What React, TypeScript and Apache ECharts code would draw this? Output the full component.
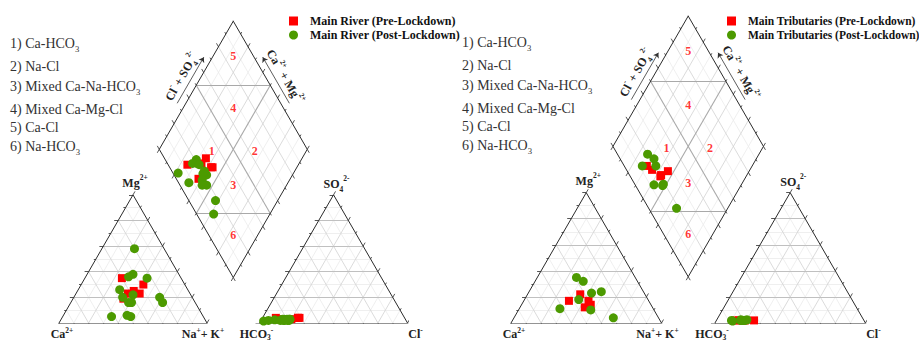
import React, { useEffect, useRef } from "react";
import * as echarts from "echarts";

// ---------------- data ----------------
const typeNames = ["Ca-HCO3", "Na-Cl", "Mixed Ca-Na-HCO3", "Mixed Ca-Mg-Cl", "Ca-Cl", "Na-HCO3"];
const zoneIds = ["1", "2", "3", "4", "5", "6"];

const riverNames = ["Main River (Pre-Lockdown)", "Main River (Post-Lockdown)"];
const tribNames = ["Main Tributaries (Pre-Lockdown)", "Main Tributaries (Post-Lockdown)"];

// Main River, pre-lockdown (% of meq/L)
const riverPreCa = [40, 28, 37, 34, 47, 42];
const riverPreMg = [35, 30, 25, 23, 19, 23];
const riverPreCl = [9, 24, 12, 25, 20, 24];
const riverPreSO4 = [4, 4, 3, 4, 3, 4];

// Main River, post-lockdown
const riverPostCa = [20, 31, 35, 23, 46, 47, 45, 43, 39, 22, 22, 62, 51, 49];
const riverPostMg = [58, 38, 36, 35, 26, 20, 16, 16, 22, 20, 16, 5, 6, 5];
const riverPostCl = [2, 17, 19, 19, 14, 18, 18, 15, 19, 15, 9, 5, 13, 16];
const riverPostSO4 = [1.5, 3, 2, 3, 3, 3, 2, 2, 3, 3, 2.5, 2, 2, 2];

// Main Tributaries, pre-lockdown
const tribPreCa = [53, 43, 40, 40, 45];
const tribPreMg = [17, 22, 17, 14, 12];
const tribPreCl = [13, 15, 19, 25, 18];
const tribPreSO4 = [2, 2, 2, 2, 2];

// Main Tributaries, post-lockdown
const tribPostCa = [39, 36, 35, 28, 46, 62, 42, 30];
const tribPostMg = [35, 32, 23, 24, 18, 11, 10, 4];
const tribPostCl = [18, 20, 11, 16, 19, 10, 17, 16];
const tribPostSO4 = [2, 2.5, 1.5, 2, 2, 2, 2, 2.5];

// ---------------- layout / style ----------------
const RED = "#ff0000";
const GREEN = "#4c9a00";
const SERIF = '"Liberation Serif", "Times New Roman", serif';

const SQ3 = Math.sqrt(3) / 2;
const S = 100; // triangle side (units)
const G = 35.5; // gap between triangles (units)
const HT = S * SQ3;
const X_MAX = 2 * S + G;
const Y_MAX = G * SQ3 + 2 * HT;

const PANELS = [
  { left: 59, scale: 1.48, base: 323, listX: 10, listDy: 0, legendLeft: 289, legendFont: 12 },
  { left: 511, scale: 1.505, base: 323, listX: 462, listDy: -1, legendLeft: 727, legendFont: 11.5 },
];
const LIST_Y = [43, 66, 86, 109, 127, 146];
// zone label anchors inside the diamond: [Ca+Mg %, Cl+SO4 %]
const ZONE_POS = [[64, 35], [35, 64], [36, 36], [66, 66], [86.5, 86.5], [16.5, 16.5]];

type P2 = number[];

function cationXY(ca: number, mg: number): P2 {
  const na = 100 - ca - mg;
  return [((na + mg / 2) * S) / 100, (mg / 100) * HT];
}
function anionXY(cl: number, so4: number): P2 {
  return [S + G + ((cl + so4 / 2) * S) / 100, (so4 / 100) * HT];
}
const DB = [S + G / 2, G * SQ3];
function diamondXY(a: number, c: number): P2 {
  return [DB[0] + ((c - a) * S) / 2, DB[1] + (a + c) * HT];
}
function samplePoints(ca: number[], mg: number[], cl: number[], so4: number[]): P2[] {
  const pts: P2[] = [];
  ca.forEach((_, i) => pts.push(cationXY(ca[i], mg[i])));
  ca.forEach((_, i) => pts.push(anionXY(cl[i], so4[i])));
  ca.forEach((_, i) => pts.push(diamondXY((ca[i] + mg[i]) / 100, (cl[i] + so4[i]) / 100)));
  return pts;
}
function lerp(a: P2, b: P2, t: number): P2 {
  return [a[0] + (b[0] - a[0]) * t, a[1] + (b[1] - a[1]) * t];
}

function buildSegments(scale: number) {
  const out: Record<string, P2[][]> = { minor: [], major: [], majorH: [], zone: [], frame: [], ticks: [] };
  const tick = (p0: P2, p1: P2, dir: P2) => {
    for (let k = 0; k <= 10; k++) {
      const p = lerp(p0, p1, k / 10);
      const len = (k % 2 === 0 ? 4 : 2.2) / scale;
      out.ticks.push([p, [p[0] + dir[0] * len, p[1] + dir[1] * len]]);
    }
  };
  for (const ox of [0, S + G]) {
    const A = [ox, 0], B = [ox + S, 0], C = [ox + S / 2, HT];
    for (let k = 1; k < 10; k++) {
      const t = k / 10;
      const maj = k % 2 === 0;
      out[maj ? "majorH" : "minor"].push([lerp(A, C, t), lerp(B, C, t)]);
      out[maj ? "major" : "minor"].push([lerp(A, B, t), lerp(B, C, 1 - t)]);
      out[maj ? "major" : "minor"].push([lerp(A, B, t), lerp(A, C, t)]);
    }
    out.frame.push([A, B], [B, C], [C, A]);
    tick(A, C, [-1, 0]);
    tick(A, B, [0.5, -SQ3]);
    tick(B, C, [0.5, SQ3]);
  }
  const D = diamondXY;
  for (let k = 1; k < 10; k++) {
    const t = k / 10;
    const cls = k === 5 ? "zone" : k % 2 === 0 ? "major" : "minor";
    out[cls].push([D(t, 0), D(t, 1)]);
    out[cls].push([D(0, t), D(1, t)]);
  }
  out.zone.push([D(0.5, 0), D(0, 0.5)], [D(1, 0.5), D(0.5, 1)]);
  out.frame.push([D(0, 0), D(1, 0)], [D(1, 0), D(1, 1)], [D(1, 1), D(0, 1)], [D(0, 1), D(0, 0)]);
  tick(D(1, 0), D(1, 1), [-0.5, SQ3]);
  tick(D(0, 1), D(1, 1), [0.5, SQ3]);
  tick(D(0, 0), D(1, 0), [-0.5, -SQ3]);
  tick(D(0, 0), D(0, 1), [0.5, -SQ3]);
  return out;
}

const SEG_STYLES = [
  { key: "minor", color: "#ebebeb", width: 0.8, z: 1 },
  { key: "major", color: "#d2d2d2", width: 0.8, z: 2 },
  { key: "majorH", color: "#c0c0c0", width: 1, z: 3 },
  { key: "zone", color: "#a9a9a9", width: 1.1, z: 4 },
  { key: "frame", color: "#2b2b2b", width: 1, z: 5 },
  { key: "ticks", color: "#2b2b2b", width: 0.8, z: 5 },
];

function richStyles(size: number, weight: string) {
  return {
    sup: { fontSize: size * 0.62, fontFamily: SERIF, fontWeight: weight, verticalAlign: "top", lineHeight: 6 },
    sub: { fontSize: size * 0.62, fontFamily: SERIF, fontWeight: weight, verticalAlign: "bottom", lineHeight: 6 },
  };
}
function txt(
  x: number,
  y: number,
  text: string,
  size: number,
  weight: string,
  fill: string,
  align = "center",
  rotation = 0,
  lh = Math.round(size * 1.5)
) {
  return {
    type: "text",
    x,
    y,
    rotation,
    silent: true,
    z: 50,
    style: {
      text,
      x: 0,
      y: 0,
      fill,
      fontSize: size,
      fontFamily: SERIF,
      fontWeight: weight,
      align,
      verticalAlign: "middle",
      textAlign: align,
      textVerticalAlign: "middle",
      lineHeight: lh,
      rich: richStyles(size, weight),
    },
  };
}

function buildOption() {
  const series: any[] = [];
  const graphic: any[] = [];
  const sets = [
    [
      [riverPreCa, riverPreMg, riverPreCl, riverPreSO4],
      [riverPostCa, riverPostMg, riverPostCl, riverPostSO4],
    ],
    [
      [tribPreCa, tribPreMg, tribPreCl, tribPreSO4],
      [tribPostCa, tribPostMg, tribPostCl, tribPostSO4],
    ],
  ];

  PANELS.forEach((p, i) => {
    const segs = buildSegments(p.scale);
    SEG_STYLES.forEach((st) => {
      series.push({
        type: "lines",
        coordinateSystem: "cartesian2d",
        xAxisIndex: i,
        yAxisIndex: i,
        polyline: false,
        silent: true,
        z: st.z,
        lineStyle: { color: st.color, width: st.width, opacity: 1, curveness: 0 },
        data: segs[st.key].map((c) => ({ coords: c })),
      });
    });

    // arrows beside the diamond's upper edges
    const L = diamondXY(1, 0), T = diamondXY(1, 1), R = diamondXY(0, 1);
    const off = 7.5 / p.scale;
    const nl = [-SQ3 * off, 0.5 * off], nr = [SQ3 * off, 0.5 * off];
    const a0 = lerp(L, T, 0.33), a1 = lerp(L, T, 0.69);
    const b0 = lerp(R, T, 0.33), b1 = lerp(R, T, 0.69);
    series.push({
      type: "lines",
      coordinateSystem: "cartesian2d",
      xAxisIndex: i,
      yAxisIndex: i,
      silent: true,
      z: 6,
      symbol: ["none", "arrow"],
      symbolSize: 5,
      lineStyle: { color: "#333", width: 0.8, opacity: 1, curveness: 0 },
      data: [
        { coords: [[a0[0] + nl[0], a0[1] + nl[1]], [a1[0] + nl[0], a1[1] + nl[1]]] },
        { coords: [[b0[0] + nr[0], b0[1] + nr[1]], [b1[0] + nr[0], b1[1] + nr[1]]] },
      ],
    });

    // zone numbers
    series.push({
      type: "scatter",
      xAxisIndex: i,
      yAxisIndex: i,
      silent: true,
      symbolSize: 0,
      z: 7,
      label: {
        show: true,
        position: "inside",
        formatter: "{b}",
        color: RED,
        fontFamily: SERIF,
        fontWeight: "bold",
        fontSize: 12,
      },
      data: ZONE_POS.map((ac, k) => ({ name: zoneIds[k], value: diamondXY(ac[0] / 100, ac[1] / 100) })),
    });

    const names = i === 0 ? riverNames : tribNames;
    sets[i].forEach((arrs, j) => {
      series.push({
        type: "scatter",
        name: names[j],
        xAxisIndex: i,
        yAxisIndex: i,
        symbol: j === 0 ? "rect" : "circle",
        symbolSize: j === 0 ? 8 : 9,
        symbolKeepAspect: true,
        z: 10 + j,
        emphasis: { disabled: true },
        itemStyle: { color: j === 0 ? RED : GREEN, opacity: 1 },
        data: samplePoints(arrs[0], arrs[1], arrs[2], arrs[3]),
      });
    });

    // texts
    const px = (u: P2): P2 => [p.left + u[0] * p.scale, p.base - u[1] * p.scale];
    typeNames.forEach((n, k) => {
      graphic.push(
        txt(p.listX, LIST_Y[k] + p.listDy, `${k + 1}) ${n.replace(/O3$/, "O{sub|3}")}`, 14, "normal", "#333", "left")
      );
    });
    const lab = (u: P2, dx: number, dy: number, t: string, lh?: number) => {
      const q = px(u);
      graphic.push(txt(q[0] + dx, q[1] + dy, t, 12, "bold", "#222", "center", 0, lh));
    };
    lab([S / 2, HT], 2, -12, "Mg{sup|2+}");
    lab([0, 0], 3, 10.5, "Ca{sup|2+}", 14);
    lab([S, 0], -4, 10.5, "Na{sup|+}+ K{sup|+}", 14);
    lab([S + G, 0], -3, 10.5, "HCO{sub|3}{sup|-}", 14);
    lab([2 * S + G, 0], 8, 10.5, "Cl{sup|-}", 14);
    lab([S + G + S / 2, HT], 3, -11, "SO{sub|4}{sup|2-}");

    const lm = px(lerp(L, T, 0.5));
    graphic.push(txt(lm[0] - 17 * SQ3, lm[1] - 8.5, "Cl{sup|-} + SO{sub|4}{sup|2-}", 12, "bold", "#222", "center", Math.PI / 3));
    const rm = px(lerp(R, T, 0.5));
    graphic.push(txt(rm[0] + 17 * SQ3, rm[1] - 8.5, "Ca{sup|2+} + Mg{sup|2+}", 12, "bold", "#222", "center", -Math.PI / 3));
  });

  return {
    animation: false,
    backgroundColor: "#ffffff",
    grid: PANELS.map((p) => ({
      left: p.left,
      top: p.base - Y_MAX * p.scale,
      width: X_MAX * p.scale,
      height: Y_MAX * p.scale,
      show: false,
      containLabel: false,
    })),
    xAxis: PANELS.map((_, i) => ({ type: "value", gridIndex: i, min: 0, max: X_MAX, show: false })),
    yAxis: PANELS.map((_, i) => ({ type: "value", gridIndex: i, min: 0, max: Y_MAX, show: false })),
    legend: PANELS.map((p, i) => ({
      data: i === 0 ? riverNames : tribNames,
      left: p.legendLeft,
      top: 15,
      orient: "vertical",
      itemWidth: 9,
      itemHeight: 9,
      itemGap: 2,
      padding: 0,
      symbolKeepAspect: true,
      selectedMode: false,
      textStyle: {
        fontFamily: SERIF,
        fontWeight: "bold",
        fontSize: p.legendFont,
        color: "#111",
        lineHeight: 12,
        padding: [0, 0, 0, 7],
      },
    })),
    graphic,
    series,
  };
}

export default function App() {
  const ref = useRef<HTMLDivElement>(null);
  useEffect(() => {
    const chart = echarts.init(ref.current as HTMLDivElement, null, { renderer: "svg" });
    chart.setOption(buildOption() as any);
    return () => chart.dispose();
  }, []);
  return (
    <div
      ref={ref}
      style={{ position: "fixed", left: 0, top: 0, width: 919, height: 341, background: "#fff" }}
    />
  );
}
